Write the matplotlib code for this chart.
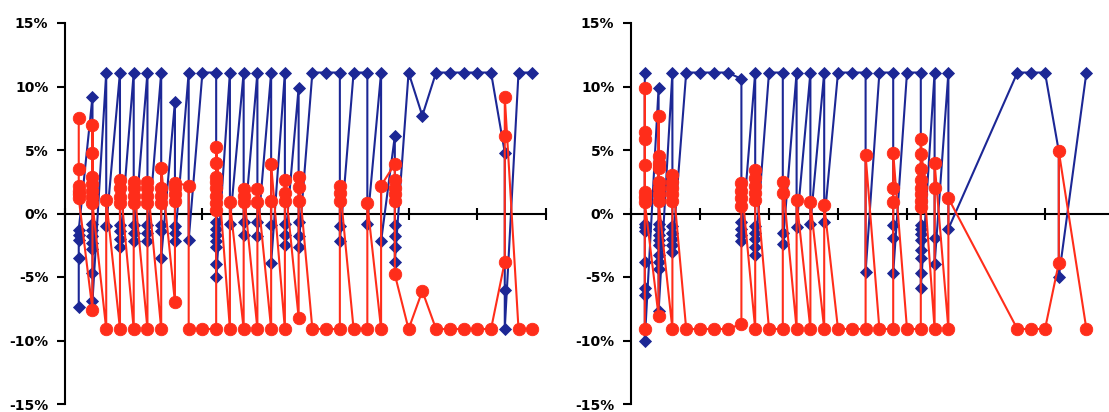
import matplotlib.pyplot as plt

# column index (x) and values in each column, in the order the line visits them
left_cols = list(range(1, 35))
left_blue = [
    [-7.4, -3.5, -2.1, -1.7, -1.3],
    [9.2, -0.8, -1.3, -1.8, -2.3, -2.8, -4.7, -6.9],
    [11.1, -1.0],
    [11.1, -0.9, -1.4, -2.0, -2.6],
    [11.1, -0.9, -1.5, -2.2],
    [11.1, -0.9, -1.5, -2.2],
    [11.1, -0.9, -1.4, -3.5],
    [8.8, -1.0, -1.5, -2.2],
    [11.1, -2.1],
    [11.1],
    [11.1, -0.7, -1.2, -1.7, -2.2, -2.6, -4.0, -5.0],
    [11.1, -0.8],
    [11.1, -0.7, -1.7],
    [11.1, -0.7, -1.8],
    [11.1, -0.9, -3.9],
    [11.1, -0.8, -1.7, -2.5],
    [9.9, -0.7, -1.8, -2.6],
    [11.1],
    [11.1],
    [11.1, -1.0, -2.2],
    [11.1],
    [11.1, -0.8],
    [11.1, -2.2],
    [6.1, -0.9, -1.8, -2.6, -3.8],
    [11.1],
    [7.7],
    [11.1],
    [11.1],
    [11.1],
    [11.1],
    [11.1],
    [4.8, -6.0, -9.1],
    [11.1],
    [11.1],
]
left_red = [
    [7.5, 3.5, 2.2, 1.8, 1.5, 1.2],
    [-7.6, 7.0, 4.8, 2.9, 2.3, 1.8, 1.3, 0.8],
    [-9.1, 1.1],
    [-9.1, 0.8, 1.3, 2.0, 2.6],
    [-9.1, 0.8, 1.4, 2.0, 2.5],
    [-9.1, 0.8, 1.4, 2.0, 2.5],
    [-9.1, 0.8, 1.4, 2.0, 3.6],
    [-7.0, 1.0, 1.5, 2.0, 2.4],
    [2.2, -9.1],
    [-9.1],
    [-9.1, 0.3, 0.8, 1.4, 2.0, 2.5, 2.9, 4.0, 5.2],
    [-9.1, 0.9],
    [-9.1, 0.9, 1.4, 1.9],
    [-9.1, 0.9, 1.9],
    [-9.1, 1.0, 3.9],
    [-9.1, 1.0, 1.6, 2.6],
    [-8.2, 1.0, 2.1, 2.9],
    [-9.1],
    [-9.1],
    [-9.1, 1.0, 1.6, 2.2],
    [-9.1],
    [-9.1, 0.8],
    [-9.1, 2.2],
    [3.9, 2.6, 2.0, 1.5, 1.0, -4.8],
    [-9.1],
    [-6.1],
    [-9.1],
    [-9.1],
    [-9.1],
    [-9.1],
    [-9.1],
    [-3.8, 6.1, 9.2],
    [-9.1],
    [-9.1],
]

right_cols = list(range(1, 24)) + [28, 29, 30, 31, 33]
right_blue = [
    [11.1, -0.8, -1.1, -1.4, -3.8, -5.9, -6.4, -10.0],
    [9.9, -0.8, -1.2, -1.7, -2.1, -2.5, -3.3, -3.8, -4.4, -7.7],
    [11.1, -1.0, -1.5, -2.0, -2.5, -3.0],
    [11.1],
    [11.1],
    [11.1],
    [11.1],
    [10.6, -0.7, -1.2, -1.7, -2.2],
    [11.1, -1.0, -1.5, -2.0, -2.6, -3.3],
    [11.1],
    [11.1, -1.5, -2.4],
    [11.1, -1.1],
    [11.1, -0.8],
    [11.1, -0.7],
    [11.1],
    [11.1],
    [11.1, -4.6],
    [11.1],
    [11.1, -0.9, -1.9, -4.7],
    [11.1],
    [11.1, -0.9, -1.2, -1.6, -2.1, -2.9, -3.5, -4.7, -5.9],
    [11.1, -1.9, -4.0],
    [11.1, -1.2],
    [11.1],
    [11.1],
    [11.1],
    [4.9, -5.0],
    [11.1],
]
right_red = [
    [-9.1, 9.9, 6.4, 5.9, 3.8, 1.7, 1.3, 0.9],
    [-8.1, 7.7, 4.5, 4.0, 3.6, 2.5, 2.0, 1.5, 1.0],
    [-9.1, 1.0, 1.5, 2.0, 2.5, 3.0],
    [-9.1],
    [-9.1],
    [-9.1],
    [-9.1],
    [-8.7, 0.6, 1.2, 1.8, 2.4],
    [-9.1, 1.1, 1.6, 2.2, 2.8, 3.4],
    [-9.1],
    [-9.1, 1.6, 2.5],
    [-9.1, 1.1],
    [-9.1, 0.9],
    [-9.1, 0.7],
    [-9.1],
    [-9.1],
    [-9.1, 4.6],
    [-9.1],
    [-9.1, 0.9, 2.0, 4.8],
    [-9.1],
    [-9.1, 0.5, 1.0, 1.5, 2.0, 2.6, 3.5, 4.7, 5.9],
    [-9.1, 2.0, 4.0],
    [-9.1, 1.2],
    [-9.1],
    [-9.1],
    [-9.1],
    [-3.9, 4.9],
    [-9.1],
]

y_ticks = [-15, -10, -5, 0, 5, 10, 15]
y_labels = ['-15%', '-10%', '-5%', '0%', '5%', '10%', '15%']

BLUE = '#1c2795'
RED = '#ff2d1a'


def flatten(cols, groups):
    xs, ys = [], []
    for c, vals in zip(cols, groups):
        for v in vals:
            xs.append(c)
            ys.append(v)
    return xs, ys


def draw(ax, cols, blue, red):
    bx, by = flatten(cols, blue)
    rx, ry = flatten(cols, red)
    ax.plot(bx, by, color=BLUE, lw=1.5, marker='D', ms=6.5, mec=BLUE,
            mew=0.6, zorder=3, clip_on=False)
    ax.plot(rx, ry, color=RED, lw=1.5, marker='o', ms=9, mec=RED,
            mew=0.6, zorder=4, clip_on=False)

    ax.set_xlim(0, 35)
    ax.set_ylim(-15, 15)
    for s in ['top', 'right']:
        ax.spines[s].set_visible(False)
    ax.spines['bottom'].set_position(('data', 0))
    ax.spines['bottom'].set_linewidth(1.5)
    ax.spines['left'].set_linewidth(1.5)
    ax.spines['bottom'].set_zorder(2)

    ax.set_xticks(range(0, 36, 5))
    ax.set_xticklabels([])
    ax.tick_params(axis='x', direction='inout', length=8, width=1.5)
    ax.set_yticks(y_ticks)
    ax.set_yticklabels(y_labels, fontweight='bold')
    ax.tick_params(axis='y', direction='out', length=6, width=1.5,
                   labelsize=10, pad=6)
    ax.set_facecolor('none')


fig = plt.figure(figsize=(11.09, 4.12), dpi=100)
ax1 = fig.add_axes([65 / 1109, 8 / 412, 481 / 1109, 381 / 412])
ax2 = fig.add_axes([631 / 1109, 8 / 412, 483 / 1109, 381 / 412])

draw(ax1, left_cols, left_blue, left_red)
draw(ax2, right_cols, right_blue, right_red)

fig.savefig('out.png', dpi=100)
